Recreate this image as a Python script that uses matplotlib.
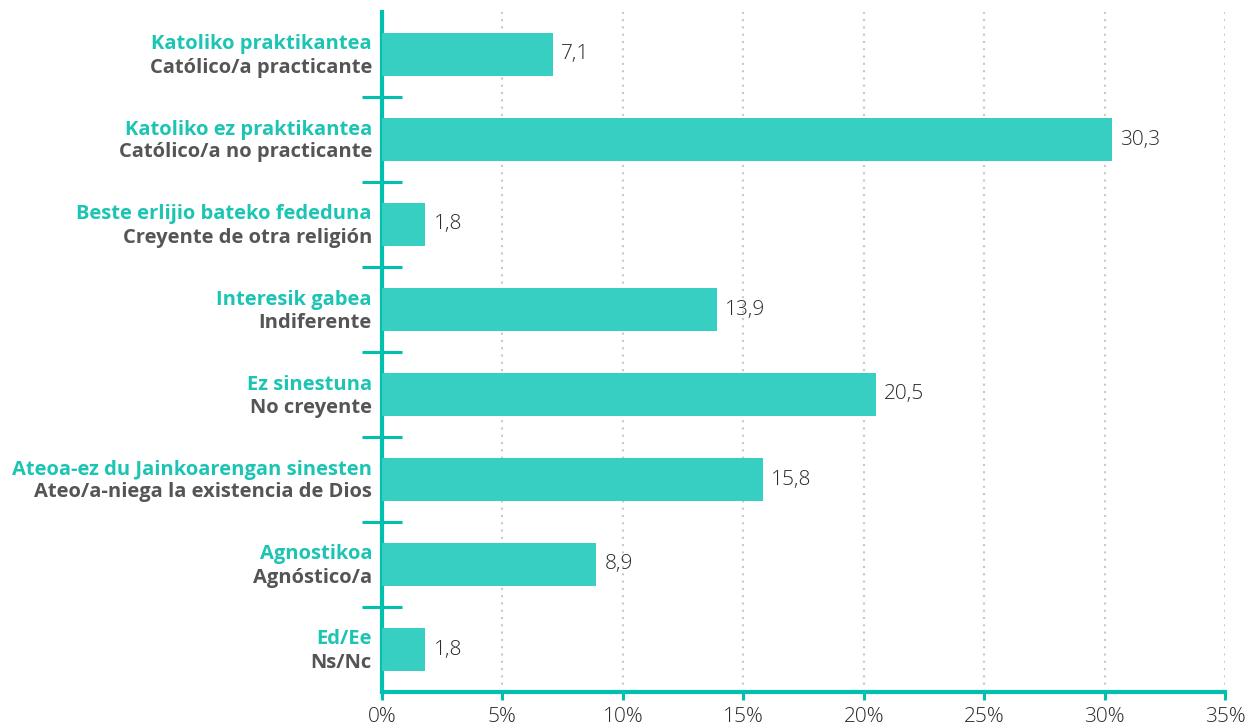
import numpy as np
import matplotlib.pyplot as plt
from matplotlib.transforms import blended_transform_factory, offset_copy

labels_eu = ['Katoliko praktikantea', 'Katoliko ez praktikantea', 'Beste erlijio bateko fededuna',
             'Interesik gabea', 'Ez sinestuna', 'Ateoa-ez du Jainkoarengan sinesten',
             'Agnostikoa', 'Ed/Ee']
labels_es = ['Católico/a practicante', 'Católico/a no practicante', 'Creyente de otra religión',
             'Indiferente', 'No creyente', 'Ateo/a-niega la existencia de Dios',
             'Agnóstico/a', 'Ns/Nc']
values = [7.1, 30.3, 1.8, 13.9, 20.5, 15.8, 8.9, 1.8]
xticks = [0, 5, 10, 15, 20, 25, 30, 35]

teal = '#00C1B0'
bar_col = '#36CFC1'
gray = '#555555'

plt.rcParams['font.family'] = ['Open Sans', 'DejaVu Sans']

fig = plt.figure(figsize=(12.48, 7.28), dpi=100)
ax = fig.add_axes([382/1248, 36/728, (1225-382)/1248, (692-12)/728])

n = len(values)
ypos = np.arange(n)
ax.barh(ypos, values, height=0.5, color=bar_col, zorder=3)
ax.set_ylim(n - 0.5, -0.5)
ax.set_xlim(0, 35)

# value labels with decimal comma
for y, v in zip(ypos, values):
    ax.annotate(('%.1f' % v).replace('.', ','), (v, y), xytext=(6, 0), textcoords='offset points',
                va='center', ha='left', fontsize=15, color='#2A2A2A', fontweight='light')

# two-line category labels: basque (teal) over spanish (gray)
trans = blended_transform_factory(ax.transAxes, ax.transData)
for y, a, b in zip(ypos, labels_eu, labels_es):
    ax.text(0, y, a, transform=offset_copy(trans, fig=fig, x=-10, y=10, units='dots'),
            ha='right', va='center', fontsize=14.5, fontweight='bold', color='#1CC4B3')
    ax.text(0, y, b, transform=offset_copy(trans, fig=fig, x=-10, y=-13, units='dots'),
            ha='right', va='center', fontsize=14.5, fontweight='bold', color=gray)

ax.set_xticks(xticks)
ax.set_xticklabels(['%d%%' % t for t in xticks], fontsize=15, fontweight='light')
ax.tick_params(axis='x', colors=teal, length=6, width=2.2, labelcolor='#2A2A2A', pad=5)
ax.set_yticks([])
ax.set_yticks(np.arange(n - 1) + 0.5, minor=True)
ax.tick_params(axis='y', which='minor', direction='inout', length=29, width=2.2, colors=teal)

for s in ['top', 'right']:
    ax.spines[s].set_visible(False)
for s in ['left', 'bottom']:
    ax.spines[s].set_color(teal)
    ax.spines[s].set_linewidth(3)

ax.grid(axis='x', color='#C8C8C8', linestyle=(0, (1, 2.5)), linewidth=1.5, zorder=0)
ax.xaxis.get_gridlines()[0].set_visible(False)
ax.set_axisbelow(True)

fig.savefig('out.png', dpi=100)
